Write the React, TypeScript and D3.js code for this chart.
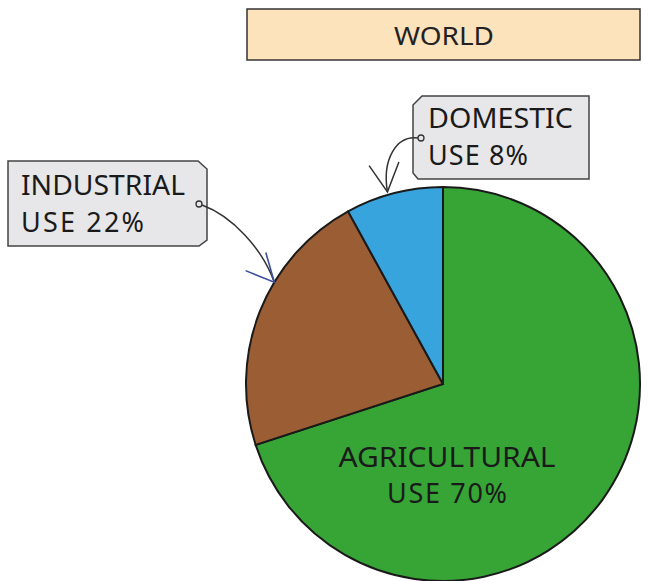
import React from 'react';
import * as d3 from 'd3';

const categories = ['AGRICULTURAL', 'INDUSTRIAL', 'DOMESTIC'];
const values = [70, 22, 8];
const colors = ['#37a536', '#9b5d34', '#38a4de'];
const title = 'WORLD';

const W = 661;
const H = 581;
const cx = 443;
const cy = 384;
const R = 197;
const FONT = "'Noto Sans', 'DejaVu Sans', sans-serif";

const pie = d3.pie<number>().sort(null).value((d) => d);
const arcs = pie(values);
const arc = d3.arc<d3.PieArcDatum<number>>().innerRadius(0).outerRadius(R);

// point on the rim, angle measured clockwise from 12 o'clock
const rim = (a: number, r = R) => [cx + Math.sin(a) * r, cy - Math.cos(a) * r];

const arrowHead = (tip: number[], dirDeg: number, spread: number, len: number) => {
  const a1 = ((dirDeg - spread) * Math.PI) / 180;
  const a2 = ((dirDeg + spread) * Math.PI) / 180;
  return `M${tip[0] + Math.cos(a1) * len},${tip[1] + Math.sin(a1) * len}L${tip[0]},${tip[1]}L${tip[0] + Math.cos(a2) * len},${tip[1] + Math.sin(a2) * len}`;
};

const App = () => {
  const ind = arcs[1];
  const dom = arcs[2];
  const indTip = rim(ind.startAngle + 0.62 * (ind.endAngle - ind.startAngle));
  const domTip = rim(dom.startAngle + 0.44 * (dom.endAngle - dom.startAngle), 200);

  return (
    <svg width={W} height={H} style={{ position: 'absolute', left: 0, top: 0 }}>
      <rect x={0} y={0} width={W} height={H} fill="#fff" />

      {/* title */}
      <rect x={247} y={9} width={393} height={51} fill="#fde3bb" stroke="#333" strokeWidth={1.5} />
      <text x={444} y={45} textAnchor="middle" fontFamily={FONT} fontSize={26} fill="#222" textLength={100} lengthAdjust="spacingAndGlyphs">
        {title}
      </text>

      {/* pie */}
      <g transform={`translate(${cx},${cy})`}>
        {arcs.map((d, i) => (
          <path key={categories[i]} d={arc(d) || ''} fill={colors[i]} stroke="#1a1a1a" strokeWidth={2} />
        ))}
      </g>
      <text fontFamily={FONT} fontSize={27} fill="#1a1a1a" textAnchor="middle">
        <tspan x={447} y={467} textLength={217} lengthAdjust="spacingAndGlyphs">{categories[0]}</tspan>
        <tspan x={447} y={503} textLength={120} lengthAdjust="spacing">USE {values[0]}%</tspan>
      </text>

      {/* industrial tag */}
      <path d="M8,161 L198,161 L207,169 L207,240 L199,246 L8,246 Z" fill="#e7e7e9" stroke="#444" strokeWidth={1.5} />
      <text fontFamily={FONT} fontSize={27} fill="#1a1a1a">
        <tspan x={21} y={195} textLength={164} lengthAdjust="spacingAndGlyphs">{categories[1]}</tspan>
        <tspan x={21} y={232} textLength={123} lengthAdjust="spacing">USE {values[1]}%</tspan>
      </text>
      <circle cx={199} cy={204} r={3} fill="#e7e7e9" stroke="#333" strokeWidth={1.3} />
      <path d={`M202,205 C232,216 262,248 ${indTip[0]},${indTip[1]}`} fill="none" stroke="#333" strokeWidth={1.5} />
      <path d={arrowHead(indTip, -132, 26, 31)} fill="none" stroke="#3b4f9a" strokeWidth={1.6} />

      {/* domestic tag */}
      <path d="M422,96 L589,96 L589,179 L418,179 L413,173 L413,105 Z" fill="#e7e7e9" stroke="#444" strokeWidth={1.5} />
      <text fontFamily={FONT} fontSize={27} fill="#1a1a1a">
        <tspan x={428} y={128} textLength={145} lengthAdjust="spacingAndGlyphs">{categories[2]}</tspan>
        <tspan x={428} y={165} textLength={100} lengthAdjust="spacing">USE {values[2]}%</tspan>
      </text>
      <circle cx={421} cy={138} r={3} fill="#e7e7e9" stroke="#333" strokeWidth={1.3} />
      <path d={`M418,138 C396,135 382,160 ${domTip[0]},${domTip[1]}`} fill="none" stroke="#333" strokeWidth={1.5} />
      <path d={arrowHead(domTip, -97, 28, 32)} fill="none" stroke="#333" strokeWidth={1.5} />
    </svg>
  );
};

export default App;
